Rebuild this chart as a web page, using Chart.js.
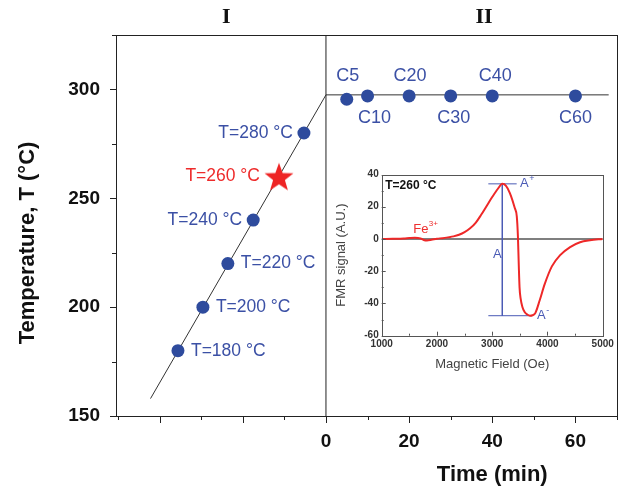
<!DOCTYPE html>
<html><head><meta charset="utf-8">
<script src="https://cdn.jsdelivr.net/npm/chart.js@4.4.1/dist/chart.umd.min.js"></script>
<style>
html,body{margin:0;padding:0;background:#fff;}
#wrap{position:relative;width:621px;height:489px;overflow:hidden;}
#main{position:absolute;left:0;top:0;}
#inset{position:absolute;left:330px;top:160px;}
</style></head><body>
<div id="wrap"><canvas id="main" width="621" height="489"></canvas><canvas id="inset" width="285" height="222"></canvas></div>
<script>
// ---------- main chart data ----------
const rampTime = [-42.2, 0, 68];
const rampTemp = [158, 297.5, 297.5];
const dividerTime = [0, 0];
const dividerTemp = [150, 325];
const heatTime = [-35.6, -29.6, -23.6, -17.5, -5.3];
const heatTemp = [180, 200, 220, 240, 280];
const heatLabels = ['T=180 °C', 'T=200 °C', 'T=220 °C', 'T=240 °C', 'T=280 °C'];
const starTime = [-11.3];
const starTemp = [260];
const starLabels = ['T=260 °C'];
const isoTime = [5, 10, 20, 30, 40, 60];
const isoTemp = [295.5, 297, 297, 297, 297, 297];
const isoLabels = ['C5', 'C10', 'C20', 'C30', 'C40', 'C60'];
const xTickLabels = [0, 20, 40, 60];
const yTickLabels = [150, 200, 250, 300];
const regionLabels = ['I', 'II'];
const xTitle = 'Time (min)';
const yTitle = 'Temperature, T (°C)';

// ---------- inset data ----------
const fmrField  = [1000,1200,1400,1500,1600,1700,1760,1820,1900,2000,2100,2200,2300,2400,2500,2600,2700,2800,2900,3000,3100,3183,3250,3320,3410,3445,3465,3480,3495,3515,3545,3590,3640,3684,3730,3780,3860,3950,4080,4230,4410,4590,4770,5000];
const fmrSignal = [0,0.1,0.3,0.6,0.8,0.4,-0.6,-0.9,-0.5,0.2,0.5,1,1.6,2.6,4.2,6.6,10,15,20.5,26,31,34.2,33,28.5,19,14,2,-15,-30,-37,-42,-45.5,-47,-47.6,-47.3,-46,-38,-28,-17,-10,-5,-2,-0.8,0];
const baseField = [1000, 5000];
const baseSignal = [0, 0];
const aPlusField = [2930, 3443];
const aPlusSignal = [34.2, 34.2];
const aMinusField = [2930, 3715];
const aMinusSignal = [-47.6, -47.6];
const aLineField = [3183, 3183];
const aLineSignal = [34.2, -47.6];
const insetXTitle = 'Magnetic Field (Oe)';
const insetYTitle = 'FMR signal (A.U.)';
const insetTempLabel = 'T=260 °C';

Chart.defaults.font.family = '"Liberation Sans", Arial, sans-serif';

const pts = (xs, ys) => xs.map((v, i) => ({x: v, y: ys[i]}));
const SANS = '"Liberation Sans", Arial, sans-serif';

// filled star point style
const starImg = document.createElement('canvas');
starImg.width = 32; starImg.height = 32;
(function(){
  const c = starImg.getContext('2d');
  c.fillStyle = '#ee2424';
  c.beginPath();
  for (let i = 0; i < 10; i++) {
    const r = i % 2 ? 6.2 : 15.2;
    const a = -Math.PI/2 + i*Math.PI/5;
    c.lineTo(16 + r*Math.cos(a), 17.5 + r*Math.sin(a));
  }
  c.closePath(); c.fill();
})();

const noPadX = s => { s.paddingLeft = 0; s.paddingRight = 0; };
const noPadY = s => { s.paddingTop = 0; s.paddingBottom = 0; };

const mainDecor = {
  id: 'mainDecor',
  afterDraw(chart) {
    const {ctx, chartArea: a, scales: {x, y}} = chart;
    ctx.save();
    ctx.strokeStyle = '#222'; ctx.lineWidth = 1;
    ctx.strokeRect(Math.round(a.left) + 0.5, Math.round(a.top) + 0.5, Math.round(a.right - a.left), Math.round(a.bottom - a.top));
    ctx.beginPath();
    for (let v = 150; v <= 325; v += 25) {
      const py = Math.round(y.getPixelForValue(v)) + 0.5;
      const len = (v % 50 === 0) ? 6 : 4;
      ctx.moveTo(a.left - len, py); ctx.lineTo(a.left, py);
    }
    for (let v = -50; v <= 70; v += 10) {
      const px = Math.round(x.getPixelForValue(v)) + 0.5;
      const len = (v % 20 === 0) ? 7 : 4;
      ctx.moveTo(px, a.bottom); ctx.lineTo(px, a.bottom + len);
    }
    ctx.stroke();

    // point labels
    ctx.textBaseline = 'middle';
    ctx.font = '17.5px ' + SANS;
    ctx.fillStyle = '#3b50a5';
    const heatSide = ['r', 'r', 'r', 'l', 'l'];
    chart.getDatasetMeta(0).data.forEach((p, i) => {
      if (heatSide[i] === 'r') { ctx.textAlign = 'left'; ctx.fillText(heatLabels[i], p.x + 13, p.y); }
      else { ctx.textAlign = 'right'; ctx.fillText(heatLabels[i], p.x - 11, p.y); }
    });
    ctx.fillStyle = '#ee2b2b';
    chart.getDatasetMeta(2).data.forEach((p, i) => {
      ctx.textAlign = 'right'; ctx.fillText(starLabels[i], p.x - 19, p.y);
    });
    ctx.font = '18px ' + SANS;
    ctx.fillStyle = '#3b50a5';
    ctx.textAlign = 'center';
    const isoDx = [1, 7, 1, 3, 3, 0];
    const lineY = y.getPixelForValue(297);
    chart.getDatasetMeta(1).data.forEach((p, i) => {
      const dy = (i % 2 === 0) ? -20 : 22;
      ctx.fillText(isoLabels[i], p.x + isoDx[i], lineY + dy);
    });

    // region labels
    ctx.fillStyle = '#111';
    ctx.font = 'bold 22px "Liberation Serif", "DejaVu Serif", serif';
    ctx.fillText(regionLabels[0], x.getPixelForValue(-24), 17);
    ctx.fillText(regionLabels[1], x.getPixelForValue(38), 17);

    // axis titles
    ctx.font = 'bold 22px ' + SANS;
    ctx.fillText(xTitle, x.getPixelForValue(40), 475);
    ctx.save();
    ctx.translate(28, 243);
    ctx.rotate(-Math.PI/2);
    ctx.font = 'bold 22px ' + SANS;
    ctx.fillText(yTitle, 0, 0);
    ctx.restore();
    ctx.restore();
  }
};

new Chart(document.getElementById('main'), {
  type: 'scatter',
  data: {
    datasets: [
      {data: pts(heatTime, heatTemp), pointRadius: 6.5, backgroundColor: '#2e4b9d', borderWidth: 0},
      {data: pts(isoTime, isoTemp), pointRadius: 6.5, backgroundColor: '#2e4b9d', borderWidth: 0},
      {data: pts(starTime, starTemp), pointStyle: starImg, pointRadius: 15},
      {data: pts(rampTime, rampTemp), showLine: true, borderColor: '#333', borderWidth: 1, pointRadius: 0},
      {data: pts(dividerTime, dividerTemp), showLine: true, borderColor: '#222', borderWidth: 1, pointRadius: 0}
    ]
  },
  options: {
    responsive: false, animation: false, events: [],
    layout: {autoPadding: false, padding: {top: 35, right: 4, left: 0, bottom: 0}},
    plugins: {legend: {display: false}, tooltip: {enabled: false}},
    scales: {
      x: {
        type: 'linear', min: -50.5, max: 70,
        grid: {display: false, drawTicks: false}, border: {display: false},
        ticks: {stepSize: 10, autoSkip: false, maxRotation: 0, padding: 14, color: '#111',
                font: {size: 19, weight: 'bold'},
                callback: v => xTickLabels.includes(v) ? String(v) : ''},
        afterFit: s => { s.height = 73; noPadX(s); }
      },
      y: {
        type: 'linear', min: 150, max: 325,
        grid: {display: false, drawTicks: false}, border: {display: false},
        ticks: {stepSize: 25, autoSkip: false, padding: 16, color: '#111',
                font: {size: 19, weight: 'bold'},
                callback: v => yTickLabels.includes(v) ? String(v) : ''},
        afterFit: s => { s.width = 116; noPadY(s); }
      }
    }
  },
  plugins: [mainDecor]
});

// ---------- inset ----------
const insetDecor = {
  id: 'insetDecor',
  afterDraw(chart) {
    const {ctx, chartArea: a, scales: {x, y}} = chart;
    ctx.save();
    ctx.strokeStyle = '#555'; ctx.lineWidth = 1;
    ctx.strokeRect(Math.round(a.left) + 0.5, Math.round(a.top) + 0.5, Math.round(a.right - a.left), Math.round(a.bottom - a.top));
    ctx.beginPath();
    for (let v = -60; v <= 40; v += 10) {
      const py = Math.round(y.getPixelForValue(v)) + 0.5;
      const len = (v % 20 === 0) ? 4 : 2;
      ctx.moveTo(a.left, py); ctx.lineTo(a.left + len, py);
    }
    for (let v = 1000; v <= 5000; v += 500) {
      const px = Math.round(x.getPixelForValue(v)) + 0.5;
      const len = (v % 1000 === 0) ? 4 : 2;
      ctx.moveTo(px, a.bottom); ctx.lineTo(px, a.bottom - len);
    }
    ctx.stroke();

    ctx.textBaseline = 'middle';
    ctx.textAlign = 'left';
    ctx.fillStyle = '#111';
    ctx.font = 'bold 12px ' + SANS;
    ctx.fillText(insetTempLabel, a.left + 3.5, a.top + 11);

    // Fe3+
    ctx.fillStyle = '#ee3030';
    ctx.font = '13px ' + SANS;
    let px = x.getPixelForValue(1570), py = y.getPixelForValue(6.2);
    ctx.fillText('Fe', px, py);
    let w = ctx.measureText('Fe').width;
    ctx.font = '8px ' + SANS;
    ctx.fillText('3+', px + w + 0.5, py - 5);

    // A labels
    ctx.fillStyle = '#4a5ab5';
    const drawA = (f, s, sup) => {
      const qx = x.getPixelForValue(f), qy = y.getPixelForValue(s);
      ctx.font = '13px ' + SANS;
      ctx.fillText('A', qx, qy);
      if (sup) {
        const ww = ctx.measureText('A').width;
        ctx.font = '9px ' + SANS;
        ctx.fillText(sup, qx + ww + 0.5, qy - 5);
      }
    };
    drawA(3504, 34.2, '+');
    drawA(3812, -47.2, '-');
    drawA(3015, -9.6, '');

    // axis titles
    ctx.fillStyle = '#444';
    ctx.textAlign = 'center';
    ctx.font = '13px ' + SANS;
    ctx.fillText(insetXTitle, (a.left + a.right) / 2, 204);
    ctx.save();
    ctx.translate(11, (a.top + a.bottom) / 2);
    ctx.rotate(-Math.PI/2);
    ctx.fillText(insetYTitle, 0, 0);
    ctx.restore();
    ctx.restore();
  }
};

new Chart(document.getElementById('inset'), {
  type: 'scatter',
  data: {
    datasets: [
      {data: pts(fmrField, fmrSignal), showLine: true, borderColor: '#ee2828', borderWidth: 2, pointRadius: 0, cubicInterpolationMode: 'monotone'},
      {data: pts(aLineField, aLineSignal), showLine: true, borderColor: '#4a5ab5', borderWidth: 1, pointRadius: 0},
      {data: pts(aPlusField, aPlusSignal), showLine: true, borderColor: '#4a5ab5', borderWidth: 1, pointRadius: 0},
      {data: pts(aMinusField, aMinusSignal), showLine: true, borderColor: '#4a5ab5', borderWidth: 1, pointRadius: 0},
      {data: pts(baseField, baseSignal), showLine: true, borderColor: '#555', borderWidth: 1.5, pointRadius: 0}
    ]
  },
  options: {
    responsive: false, animation: false, events: [],
    layout: {autoPadding: false, padding: {top: 14.5, right: 12.3, left: 0, bottom: 0}},
    plugins: {legend: {display: false}, tooltip: {enabled: false}},
    scales: {
      x: {
        type: 'linear', min: 1000, max: 5000,
        grid: {display: false, drawTicks: false}, border: {display: false},
        ticks: {stepSize: 1000, autoSkip: false, maxRotation: 0, padding: 3, color: '#333', font: {size: 10, weight: 'bold'},
                callback: v => String(v)},
        afterFit: s => { s.height = 46.3; noPadX(s); }
      },
      y: {
        type: 'linear', min: -60, max: 40,
        grid: {display: false, drawTicks: false}, border: {display: false},
        ticks: {stepSize: 20, autoSkip: false, padding: 3, color: '#333', font: {size: 10, weight: 'bold'},
                callback: v => String(v)},
        afterFit: s => { s.width = 51.7; noPadY(s); }
      }
    }
  },
  plugins: [insetDecor]
});
</script>
</body></html>
